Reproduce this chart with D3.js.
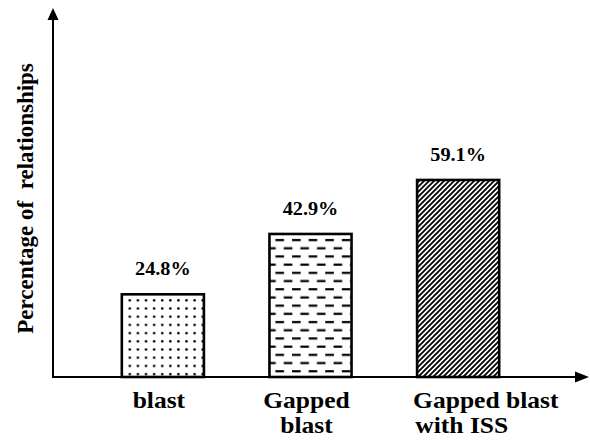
<!DOCTYPE html>
<html><head><meta charset="utf-8">
<script src="https://cdn.jsdelivr.net/npm/d3@7"></script>
<style>
html,body{margin:0;padding:0;background:#fff;}
svg{display:block;}
</style></head>
<body>
<svg id="chart" width="590" height="441"></svg>
<script>
const categories = ["blast", "Gapped blast", "Gapped blast with ISS"];
const categoryLines = [["blast"], ["Gapped", "blast"], ["Gapped blast", "with ISS"]];
const values = [24.8, 42.9, 59.1];
const valueLabels = ["24.8%", "42.9%", "59.1%"];
const patterns = ["dots", "dashes", "hatch"];
const yTitle = "Percentage of\u00a0 relationships";

const FONT = "'Liberation Serif', 'Times New Roman', Times, 'DejaVu Serif', serif";
const svg = d3.select("#chart");
const x0 = 53, yBase = 377;

const x = d3.scaleBand().domain(categories).range([48, 573]).paddingInner(0.444).paddingOuter(0.5);
const y = d3.scaleLinear().domain([0, 100]).range([yBase, 43.6]);

const defs = svg.append("defs");
// dots
const pd = defs.append("pattern").attr("id", "dots").attr("patternUnits", "userSpaceOnUse")
  .attr("width", 8.1).attr("height", 8.2).attr("x", x(categories[0]) + 4).attr("y", y(values[0]) + 2);
pd.append("circle").attr("cx", 4).attr("cy", 4).attr("r", 1.3).attr("fill", "#000");
// dashes
const pdash = defs.append("pattern").attr("id", "dashes").attr("patternUnits", "userSpaceOnUse")
  .attr("width", 16.6).attr("height", 16.4).attr("x", x(categories[1]) + 3).attr("y", y(values[1]) + 3);
pdash.append("rect").attr("x", 3).attr("y", 2).attr("width", 8.6).attr("height", 2.2).attr("fill", "#000");
pdash.append("rect").attr("x", -5.3).attr("y", 10.2).attr("width", 8.6).attr("height", 2.2).attr("fill", "#000");
pdash.append("rect").attr("x", 11.3).attr("y", 10.2).attr("width", 8.6).attr("height", 2.2).attr("fill", "#000");
// hatch
const ph = defs.append("pattern").attr("id", "hatch").attr("patternUnits", "userSpaceOnUse")
  .attr("width", 5).attr("height", 5);
ph.append("path").attr("d", "M-1,6 L6,-1 M-1,1 L1,-1 M4,6 L6,4")
  .attr("stroke", "#000").attr("stroke-width", 1.8).attr("fill", "none");

// bars
svg.append("g").selectAll("rect").data(values).join("rect")
  .attr("x", (d, i) => x(categories[i]))
  .attr("y", d => y(d))
  .attr("width", x.bandwidth())
  .attr("height", d => y(0) - y(d))
  .attr("fill", (d, i) => `url(#${patterns[i]})`)
  .attr("stroke", "#000").attr("stroke-width", 2.6);

// value labels
svg.append("g").selectAll("text").data(values).join("text")
  .attr("transform", (d, i) => `translate(${x(categories[i]) + x.bandwidth() / 2},${y(d) - 19}) scale(1.04,1)`)
  .attr("text-anchor", "middle")
  .attr("font-family", FONT).attr("font-weight", "bold")
  .attr("font-size", 19.5)
  .text((d, i) => valueLabels[i]);

// axes
svg.append("line").attr("x1", x0).attr("y1", yBase + 1).attr("x2", x0).attr("y2", 18)
  .attr("stroke", "#000").attr("stroke-width", 2);
svg.append("path").attr("d", `M${x0},8 L${x0 - 5.5},20 L${x0 + 5.5},20 Z`).attr("fill", "#000");
svg.append("line").attr("x1", x0 - 1).attr("y1", yBase).attr("x2", 578).attr("y2", yBase)
  .attr("stroke", "#000").attr("stroke-width", 2);
svg.append("path").attr("d", `M589,${yBase} L575,${yBase - 5.5} L575,${yBase + 5.5} Z`).attr("fill", "#000");

// category labels
const cl = svg.append("g").selectAll("g").data(categories).join("g")
  .attr("transform", (d, i) => `translate(${i === 2 ? x(d) - 4 : x(d) + x.bandwidth() / 2 - 4},0) scale(1.11,1)`);
cl.each(function(d, i) {
  const t = d3.select(this).append("text")
    .attr("font-family", FONT).attr("font-weight", "bold")
    .attr("font-size", 23)
    .attr("text-anchor", i === 2 ? "start" : "middle");
  categoryLines[i].forEach((line, j) => {
    t.append("tspan").attr("x", (i === 2 && j === 1) ? 2 : 0).attr("y", 408 + j * 25).text(line);
  });
});

// y title
svg.append("text")
  .attr("transform", `translate(33,${(62 + 335) / 2}) rotate(-90)`)
  .attr("text-anchor", "middle")
  .attr("font-family", FONT).attr("font-weight", "bold")
  .attr("font-size", 23)
  .style("white-space", "pre")
  .text(yTitle);
</script>
</body></html>
